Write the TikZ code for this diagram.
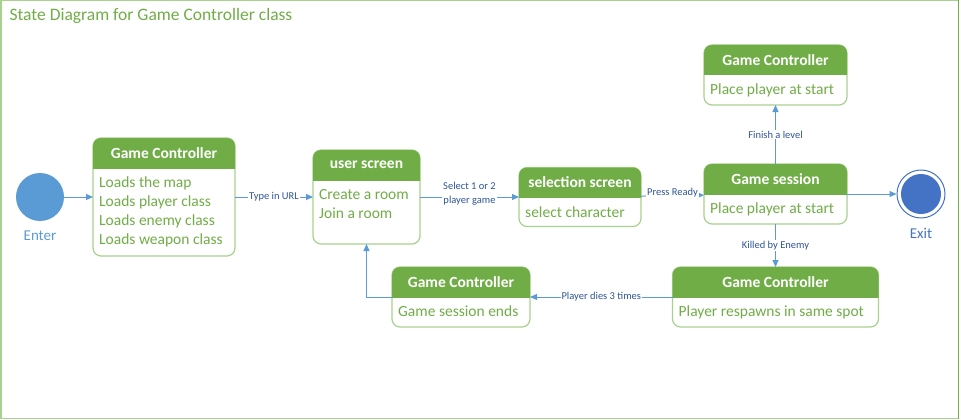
\documentclass[tikz,border=0pt]{standalone}
\usepackage{fontspec}
\setmainfont{Carlito}
\usetikzlibrary{positioning,arrows.meta}
\definecolor{headgreen}{RGB}{112,173,71}
\definecolor{rimgreen}{RGB}{169,209,142}
\definecolor{wireblue}{RGB}{91,155,213}
\definecolor{tagblue}{RGB}{47,85,151}
\definecolor{exitblue}{RGB}{68,114,196}
\tikzset{
  statebox/.style={draw=rimgreen,line width=1.2pt,fill=white,rounded corners=8pt,inner sep=0pt,outer sep=0pt},
  headtext/.style={text=white,font=\fontsize{15.5}{17}\selectfont\bfseries},
  bodytext/.style={text=headgreen,font=\fontsize{15.5}{19}\selectfont,align=left,inner sep=0pt,anchor=north west},
  wire/.style={draw=wireblue,line width=1pt,-{Triangle[length=7pt,width=6pt]}},
  tag/.style={text=tagblue,font=\fontsize{10.5}{13.5}\selectfont,fill=white,inner sep=1pt,align=center}
}
\newcommand\gamestate[6]{%
  \node[statebox,minimum width=#3,minimum height=#4] (#1) at #2 {};
  \begin{scope}
    \clip ([yshift=-30pt]#1.north west) rectangle ([yshift=2pt]#1.north east);
    \fill[headgreen,rounded corners=8pt] (#1.north west) rectangle (#1.south east);
  \end{scope}
  \node[headtext] at ([yshift=-15pt]#1.north) {#5};
  \node[bodytext] at ([xshift=6pt,yshift=-39pt]#1.north west) {#6};
}
\begin{document}
\begin{tikzpicture}[x=1pt,y=-1pt]
\useasboundingbox (0,0) rectangle (961,420);
\draw[rimgreen,line width=1.5pt] (0.75,0.75) rectangle (958.5,418.5);
\draw[headgreen,line width=1.5pt] (958.5,0) -- (958.5,419);
\node[text=headgreen,font=\fontsize{17.5}{20}\selectfont,anchor=west] (title) at (6,16) {State Diagram for Game Controller class};
\gamestate{load}{(164,197)}{142}{118}{Game Controller}{Loads the map\\Loads player class\\Loads enemy class\\Loads weapon class}
\gamestate{user}{(366.5,197)}{107}{94}{user screen}{Create a room\\Join a room}
\gamestate{pick}{(580,197)}{122}{59}{selection screen}{select character}
\gamestate{ends}{(461,297)}{138}{60}{Game Controller}{Game session ends}
\gamestate{level}{(775.5,75)}{143}{60}{Game Controller}{Place player at start}
\gamestate{session}{(775.5,194)}{143}{60}{Game session}{Place player at start}
\gamestate{respawn}{(775.5,297)}{206}{60}{Game Controller}{Player respawns in same spot}
\node[circle,fill=wireblue,minimum size=48pt,inner sep=0pt] (enter) at (40,197) {};
\node[text=wireblue,font=\fontsize{15}{17}\selectfont,inner sep=0pt,below=9pt of enter] (entername) {Enter};
\node[circle,draw=exitblue,line width=1pt,fill=white,minimum size=48pt,inner sep=0pt] (exit) at (921,194) {};
\fill[exitblue] (exit) circle (20);
\node[text=exitblue,font=\fontsize{15}{17}\selectfont,inner sep=0pt,below=9pt of exit] (exitname) {Exit};
\draw[wire] (enter) -- (load);
\draw[wire] (load) -- node[tag]{Type in URL} (user);
\draw[wire] (user) -- node[tag,yshift=3pt]{Select 1 or 2\\player game} (pick);
\draw[wire] (pick) -- node[tag,yshift=3pt]{Press Ready} (session);
\draw[wire] (session) -- node[tag]{Finish a level} (level);
\draw[wire] (session) -- node[tag]{Killed by Enemy} (respawn);
\draw[wire] (session) -- (exit);
\draw[wire] (respawn) -- node[tag]{Player dies 3 times} (ends);
\draw[wire] (ends) -| (user);
\end{tikzpicture}
\end{document}
